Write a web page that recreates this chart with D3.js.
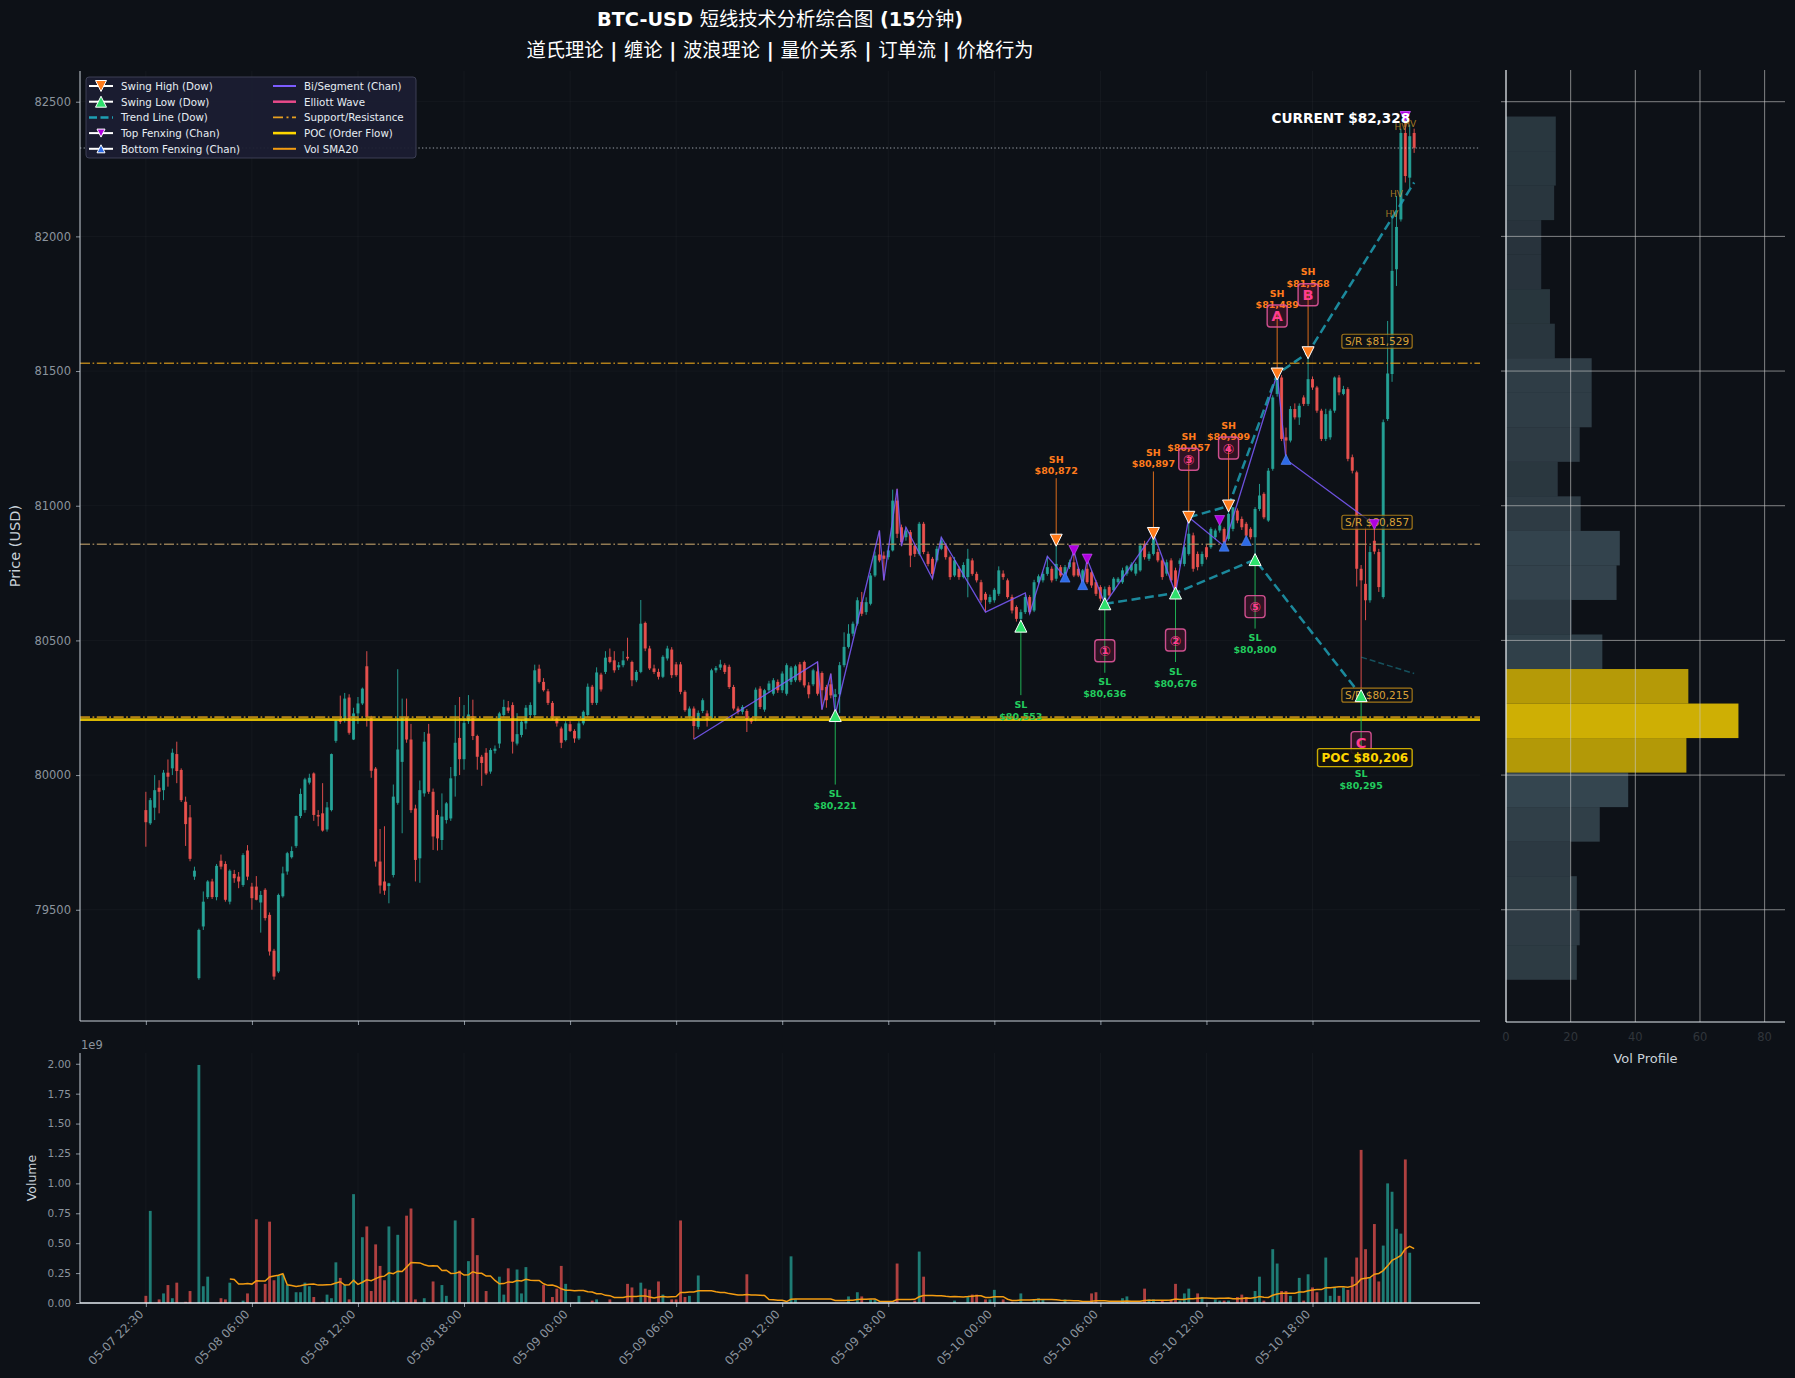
<!DOCTYPE html>
<html><head><meta charset="utf-8">
<script src="https://cdn.jsdelivr.net/npm/d3@7"></script>
<style>
html,body{margin:0;padding:0;background:#0d1117;}
svg{display:block;}
</style></head><body>
<svg id="chart" width="1795" height="1378"></svg>
<script>
// ---------------- DATA ----------------
const opens=[79870,79821,79879,79953,79944,80009,80025,80078,80019,79901,
79843,79623,79246,79438,79547,79605,79547,79682,79670,79530,
79633,79623,79592,79720,79586,79586,79527,79574,79481,79348,
79271,79550,79642,79695,79737,79848,79870,79972,80006,79852,
79858,79798,79870,80127,80206,80204,80288,80132,80229,80266,
80404,80214,80024,79679,79605,79588,79629,79897,80049,80216,
80132,79876,79691,79932,80154,79938,79852,79759,79833,79839,
79996,80138,80059,80200,80219,80145,80068,80083,80013,80090,
80117,80223,80251,80260,80117,80149,80192,80223,80223,80395,
80346,80311,80268,80210,80173,80130,80189,80164,80136,80192,
80223,80328,80268,80373,80383,80439,80426,80400,80408,80439,
80420,80352,80383,80565,80470,80396,80383,80365,80433,80466,
80411,80411,80309,80216,80247,80179,80238,80229,80210,80389,
80399,80408,80402,80327,80247,80235,80238,80210,80210,80321,
80243,80315,80302,80346,80315,80302,80346,80352,80411,80420,
80333,80337,80385,80379,80327,80337,80290,80300,80408,80476,
80525,80562,80643,80605,80636,80741,80819,80815,80809,80834,
81019,80920,80883,80902,80852,80821,80933,80821,80803,80797,
80840,80852,80809,80741,80766,80735,80735,80797,80747,80716,
80673,80642,80649,80673,80748,80723,80661,80624,80580,80605,
80661,80611,80716,80723,80747,80766,80729,80772,80747,80772,
80790,80766,80716,80766,80753,80716,80698,80650,80698,80686,
80716,80716,80748,80760,80748,80760,80858,80803,80821,80828,
80797,80748,80797,80760,80784,80784,80821,80890,80821,80784,
80846,80846,80883,80908,80914,80877,80914,80982,80951,80933,
80914,80883,80988,81044,80945,81137,81415,81476,81254,81242,
81359,81328,81402,81378,81470,81439,81353,81248,81254,81353,
81476,81415,81433,81180,81124,80766,80710,80649,80870,80828,
80661,81322,81489,81878,82063,82384,82218,82384];
const highs=[79938,79915,80000,79981,80019,80058,80098,80124,80025,79920,
79889,79660,79430,79568,79610,79615,79670,79705,79680,79650,
79648,79640,79710,79740,79600,79625,79570,79580,79490,79355,
79560,79660,79715,79735,79850,79950,79990,80005,80010,79870,
79970,79900,80080,80205,80295,80305,80300,80250,80290,80325,
80460,80220,80030,79800,79810,79600,79965,80393,80284,80284,
80190,79890,79980,80160,80190,79950,79870,79932,79900,80030,
80260,80290,80260,80297,80280,80150,80075,80100,80100,80110,
80235,80280,80275,80270,80230,80205,80260,80270,80410,80410,
80360,80320,80275,80215,80180,80200,80200,80170,80200,80240,
80340,80335,80400,80380,80460,80470,80460,80420,80460,80510,
80425,80390,80650,80570,80480,80410,80395,80445,80480,80475,
80420,80420,80315,80255,80255,80240,80285,80240,80395,80405,
80428,80415,80410,80335,80255,80260,80245,80215,80325,80330,
80320,80350,80360,80355,80385,80415,80405,80410,80420,80425,
80345,80395,80420,80385,80335,80377,80320,80420,80530,80560,
80570,80660,80680,80660,80750,80830,80908,80830,80850,81060,
81063,80930,80920,80910,80860,80940,80940,80830,80810,80850,
80883,80860,80815,80810,80775,80790,80840,80805,80755,80725,
80680,80670,80695,80775,80760,80730,80670,80630,80615,80670,
80668,80725,80745,80755,80812,80775,80872,80780,80780,80800,
80834,80772,80765,80802,80760,80725,80705,80700,80705,80735,
80735,80770,80780,80790,80790,80860,80870,80830,80897,80840,
80805,80800,80805,80770,80805,80855,80957,80900,80830,80830,
80855,80920,80915,80945,80920,80999,80995,80990,80960,80940,
80920,80995,81081,81050,81140,81410,81489,81485,81290,81370,
81380,81380,81410,81568,81480,81445,81360,81360,81360,81480,
81485,81445,81440,81190,81130,80780,80920,80850,80930,80840,
81320,81686,82075,82150,82400,82445,82415,82400];
const lows=[79734,79815,79833,79858,79907,79957,80000,79970,79900,79737,
79680,79611,79240,79425,79540,79540,79535,79650,79530,79520,
79600,79580,79585,79610,79500,79535,79415,79460,79330,79240,
79265,79545,79630,79690,79730,79840,79860,79965,79830,79810,
79790,79790,79865,80120,80190,80195,80150,80130,80190,80260,
80180,79990,79660,79560,79555,79524,79620,79890,79784,80120,
79860,79605,79600,79920,79930,79722,79720,79722,79820,79830,
79920,80000,80020,80190,80130,80020,79960,80000,80005,80080,
80100,80215,80230,80080,80110,80140,80170,80215,80215,80340,
80310,80260,80205,80180,80100,80125,80160,80120,80130,80185,
80215,80260,80260,80310,80375,80415,80380,80390,80400,80425,
80330,80345,80378,80460,80390,80375,80355,80360,80425,80360,
80365,80300,80235,80210,80133,80170,80230,80180,80205,80380,
80390,80375,80320,80240,80225,80225,80160,80190,80200,80245,
80235,80305,80295,80305,80305,80295,80335,80345,80345,80325,
80285,80330,80295,80243,80250,80285,80221,80230,80400,80470,
80515,80555,80590,80595,80630,80735,80790,80723,80800,80830,
80880,80850,80870,80772,80810,80815,80820,80775,80729,80790,
80835,80800,80725,80735,80725,80730,80660,80740,80715,80640,
80605,80635,80640,80665,80725,80655,80600,80570,80553,80598,
80598,80605,80710,80715,80740,80715,80720,80735,80735,80765,
80735,80735,80707,80710,80695,80665,80645,80636,80655,80680,
80710,80710,80740,80755,80740,80755,80800,80795,80815,80790,
80725,80740,80715,80676,80775,80775,80815,80755,80760,80775,
80800,80840,80875,80900,80850,80870,80905,80935,80910,80871,
80875,80800,80980,80950,80940,81130,81405,81240,81172,81235,
81320,81300,81370,81370,81430,81345,81240,81240,81245,81345,
81410,81410,81165,81120,80700,80295,80575,80640,80820,80680,
80655,81315,81460,81816,82055,82200,82180,82310];
const closes=[79825,79907,79944,79938,80009,79994,80083,80015,79907,79818,
79689,79645,79425,79530,79605,79547,79663,79660,79537,79645,
79617,79605,79703,79623,79543,79537,79555,79469,79345,79252,
79555,79635,79710,79718,79848,79930,79984,79990,79852,79846,
79794,79880,80078,80201,80198,80284,80157,80229,80266,80321,
80216,80016,79679,79590,79571,79598,79920,80095,80216,80132,
79870,79685,79944,80124,79938,79772,79765,79846,79895,79988,
80120,80059,80194,80225,80145,80068,80045,80006,80093,80098,
80229,80253,80239,80124,80152,80198,80250,80260,80389,80346,
80315,80268,80210,80192,80120,80192,80164,80136,80192,80235,
80328,80268,80381,80318,80436,80420,80389,80408,80426,80433,
80352,80383,80562,80470,80396,80383,80365,80439,80470,80371,
80371,80309,80241,80247,80182,80231,80278,80204,80389,80398,
80411,80383,80327,80247,80235,80253,80204,80198,80317,80253,
80315,80340,80352,80315,80377,80408,80399,80404,80352,80333,
80300,80389,80302,80315,80278,80296,80300,80408,80476,80525,
80562,80649,80599,80642,80741,80815,80797,80803,80834,81019,
80896,80865,80908,80815,80821,80933,80828,80784,80747,80840,
80871,80809,80735,80797,80735,80780,80803,80747,80723,80649,
80651,80661,80688,80760,80735,80661,80611,80580,80605,80661,
80605,80716,80738,80747,80772,80723,80784,80741,80772,80790,
80741,80741,80760,80716,80704,80673,80655,80690,80667,80729,
80729,80760,80775,80782,80784,80852,80809,80821,80896,80797,
80735,80790,80723,80686,80797,80846,80896,80766,80772,80821,
80809,80914,80908,80927,80865,80970,80994,80945,80920,80889,
80883,80988,81038,80957,81130,81402,81476,81248,81242,81359,
81328,81371,81378,81470,81439,81353,81248,81340,81353,81476,
81421,81433,81174,81130,80766,80723,80649,80828,80830,80698,
81310,81491,81872,82035,82384,82224,82372,82329];
// volume in units of 1e9
const volumes=[0.06,0.77,0,0.03,0.08,0.15,0.04,0.17,0,0.01,
0.10,0,1.99,0.14,0.22,0,0,0.04,0.03,0.17,
0,0,0.02,0.08,0,0.70,0,0.16,0.68,0.19,
0.23,0.24,0.15,0,0.09,0.09,0.17,0.14,0.05,0,
0.01,0.07,0.04,0.34,0.21,0.15,0.03,0.91,0,0.55,
0.64,0.10,0.49,0.31,0.19,0.64,0.02,0.57,0,0.73,
0.79,0.03,0,0.04,0,0.18,0,0.15,0.06,0,
0.69,0.27,0,0.35,0.71,0.40,0,0.10,0,0,
0.22,0.07,0.29,0,0.28,0.08,0.30,0,0,0,
0.15,0,0.05,0.12,0.31,0.16,0,0,0.06,0,
0,0.02,0.03,0,0,0.03,0,0,0,0.16,
0.13,0,0.17,0.12,0.11,0,0.18,0.07,0,0.03,
0.03,0.69,0.05,0.06,0,0.23,0,0,0,0,
0,0,0,0,0,0,0.24,0,0,0,
0,0,0,0,0,0,0.39,0.03,0,0,
0,0,0,0,0,0,0,0,0,0.055,
0,0.09,0.055,0,0.03,0.03,0,0,0,0,
0.33,0,0,0,0.02,0.43,0.22,0,0,0,
0,0,0,0.02,0,0,0.05,0.07,0.07,0,
0.03,0.03,0.11,0,0.03,0,0.01,0,0.08,0,
0,0.03,0.04,0.03,0,0,0,0,0.03,0,
0,0,0,0,0.08,0.09,0,0,0,0,
0,0.04,0.055,0,0,0,0.12,0.03,0.03,0,
0.02,0,0.03,0.16,0.02,0.08,0.12,0,0.08,0.05,
0,0,0.03,0.02,0.02,0.02,0,0.05,0.07,0.05,
0,0.10,0.22,0.02,0,0.45,0.33,0.10,0.10,0.06,
0,0.21,0.02,0.24,0.13,0.09,0,0.38,0.06,0.13,
0.06,0.13,0.11,0.22,0.38,1.28,0.45,0.21,0.66,0.18,
0.48,1.0,0.93,0.62,0.58,1.2,0.42,0];

const tickIdx=[0,24,48,72,96,120,144,168,192,216,240,264];
const tickLabels=["05-07 22:30","05-08 06:00","05-08 12:00","05-08 18:00","05-09 00:00","05-09 06:00",
"05-09 12:00","05-09 18:00","05-10 00:00","05-10 06:00","05-10 12:00","05-10 18:00"];
const priceTicks=[79500,80000,80500,81000,81500,82000,82500];
const volTicks=[0,0.25,0.5,0.75,1.0,1.25,1.5,1.75,2.0];
const profTicks=[0,20,40,60,80];

// Dow swing points
const swingHighIdx=[206,228,236,245,256,263];
const swingHighPx=[80872,80897,80957,80999,81489,81568];
const swingLowIdx=[156,198,217,233,251,275];
const swingLowPx=[80221,80553,80636,80676,80800,80295];
// Dow trend lines
const trendHiIdx=[236,245,256,263,287];
const trendHiPx=[80957,80999,81489,81568,82200];
const trendLoIdx=[217,233,251,275];
const trendLoPx=[80636,80676,80800,80295];
const projIdx=[275,287];
const projPx=[80438,80377];
// Chan fenxing + bi
const topFxIdx=[210,213,243,278,285];
const topFxPx=[80834,80802,80945,80930,82445];
const botFxIdx=[208,212,244,249,258];
const botFxPx=[80735,80707,80850,80871,81172];
const biIdx=[124,152,153,155,156,166,167,170,171,172,178,180,190,199,200,204,208,210,212,213,217,228,233,236,244,256,258,278];
const biPx=[80133,80420,80243,80377,80225,80908,80723,81063,80850,80920,80729,80883,80605,80676,80600,80812,80735,80834,80707,80802,80636,80897,80676,80957,80850,81489,81172,80930];
// Elliott wave labels
const waveLabels=["①","②","③","④","⑤","A","B","C"];
const waveIdx=[217,233,236,245,251,256,263,275];
const wavePx=[80636,80676,80957,80999,80800,81489,81568,80295];
const waveKind=["L","L","H","H","L","H","H","L"];
// Support / resistance, POC, current
const srLevels=[81529,80857,80215];
const pocPrice=80206;
const currentPrice=82328;
// Volume profile (25 bins, low -> high)
const volProfile=[21.9,22.8,21.9,19.9,29.0,37.8,55.8,71.9,56.4,29.8,20.3,34.2,35.2,23.1,16.0,22.8,26.5,26.5,15.1,13.6,10.9,10.9,14.9,15.4,15.4];
// High-volume tags
const hvIdx=[282,283,284,286];
const hvPx=[82082,82158,82407,82418];

// ---------------- DRAW ----------------
const W=1795,H=1378;
const FONT="'DejaVu Sans','Noto Sans CJK SC',sans-serif";
const CJK="'Noto Sans CJK SC','DejaVu Sans',sans-serif";
const C={bg:'#0d1117',up:'#26a69a',dn:'#ef5350',tick:'#8b949e',spine:'#c9d1d9',
  sh:'#ff7b1c',sl:'#2ee06c',slText:'#22cc5e',trend:'#1e9fb4',bi:'#7c5cff',topFx:'#b000e0',botFx:'#2e6be6',
  wave:'#ff3d8e',sr:'#d89a1c',poc:'#ffd600',sma:'#f39c12'};
const svg=d3.select('#chart');
svg.append('rect').attr('width',W).attr('height',H).attr('fill',C.bg);
const n=closes.length;
const idx=d3.range(n);

const M={l:80,r:1480,t:71,b:1021};
const V={t:1053,b:1303};
const P={l:1506,r:1785,t:70,b:1022};
const x=d3.scaleLinear().domain([-14.9,301.9]).range([M.l,M.r]);
const y=d3.scaleLinear().domain([79087,82614]).range([M.b,M.t]);
const yv=d3.scaleLinear().domain([0,2.09]).range([V.b,V.t]);
const xp=d3.scaleLinear().domain([0,86.3]).range([P.l,P.r]);

svg.append('defs').append('clipPath').attr('id','clipMain').append('rect')
  .attr('x',M.l).attr('y',M.t).attr('width',M.r-M.l).attr('height',M.b-M.t);

// Title
const TFS=19.3;
const t1=svg.append('text').attr('x',780).attr('y',26).attr('text-anchor','middle').attr('fill','#ffffff').attr('font-size',TFS);
[['BTC-USD ',1],['短线技术分析综合图',0],[' (15',1],['分钟',0],[')',1]].forEach(p=>{
  t1.append('tspan').text(p[0]).attr('font-family',p[1]?FONT:CJK).attr('font-weight',p[1]?'bold':'normal');
});
const t2=svg.append('text').attr('x',780).attr('y',57).attr('text-anchor','middle').attr('fill','#ffffff').attr('font-size',TFS);
['道氏理论','缠论','波浪理论','量价关系','订单流','价格行为'].forEach((s,k)=>{
  if(k>0) t2.append('tspan').attr('font-family',FONT).attr('font-weight','bold').text(' | ');
  t2.append('tspan').attr('font-family',CJK).text(s);
});

// faint grid main + volume
const g0=svg.append('g');
tickIdx.forEach(t=>{
  g0.append('line').attr('x1',x(t)).attr('x2',x(t)).attr('y1',M.t).attr('y2',M.b).attr('stroke','#ffffff').attr('stroke-opacity',0.035);
  g0.append('line').attr('x1',x(t)).attr('x2',x(t)).attr('y1',V.t).attr('y2',V.b).attr('stroke','#ffffff').attr('stroke-opacity',0.035);
});
priceTicks.forEach(p=>g0.append('line').attr('x1',M.l).attr('x2',M.r).attr('y1',y(p)).attr('y2',y(p)).attr('stroke','#ffffff').attr('stroke-opacity',0.03));

// Candles
const gc=svg.append('g').attr('clip-path','url(#clipMain)');
const step=x(1)-x(0), bw=step*0.68;
idx.forEach(i=>{
  const up=closes[i]>=opens[i], col=up?C.up:C.dn;
  gc.append('line').attr('x1',x(i)).attr('x2',x(i)).attr('y1',y(highs[i])).attr('y2',y(lows[i]))
    .attr('stroke',col).attr('stroke-width',1).attr('opacity',0.9);
  const top=y(Math.max(opens[i],closes[i])), bot=y(Math.min(opens[i],closes[i]));
  gc.append('rect').attr('x',x(i)-bw/2).attr('y',top).attr('width',bw).attr('height',Math.max(1,bot-top))
    .attr('fill',col).attr('opacity',0.9);
});

// Horizontal levels
const gl=svg.append('g').attr('clip-path','url(#clipMain)');
const srCols=['#d89a1c','#b39563','#d89a1c'];
srLevels.forEach((p,k)=>gl.append('line').attr('x1',M.l).attr('x2',M.r).attr('y1',y(p)).attr('y2',y(p))
  .attr('stroke',srCols[k]).attr('stroke-width',1.6).attr('stroke-opacity',0.8).attr('stroke-dasharray','10,2.6,1.6,2.6'));
gl.append('line').attr('x1',M.l).attr('x2',M.r).attr('y1',y(currentPrice)).attr('y2',y(currentPrice))
  .attr('stroke','#c9d1d9').attr('stroke-opacity',0.75).attr('stroke-width',1.1).attr('stroke-dasharray','1.3,2.3');

// Bi lines
const line=d3.line().x(d=>x(d[0])).y(d=>y(d[1]));
gl.append('path').attr('d',line(biIdx.map((t,k)=>[t,biPx[k]]))).attr('fill','none')
  .attr('stroke',C.bi).attr('stroke-width',1.3).attr('stroke-opacity',0.85);
// Trend lines
[[trendHiIdx,trendHiPx],[trendLoIdx,trendLoPx]].forEach(([a,b])=>{
  gl.append('path').attr('d',line(a.map((t,k)=>[t,b[k]]))).attr('fill','none')
    .attr('stroke',C.trend).attr('stroke-width',2.5).attr('stroke-opacity',0.85).attr('stroke-dasharray','9,4.5');
});
gl.append('path').attr('d',line(projIdx.map((t,k)=>[t,projPx[k]]))).attr('fill','none')
  .attr('stroke',C.trend).attr('stroke-width',1.5).attr('stroke-opacity',0.45).attr('stroke-dasharray','6,3');

// S/R labels
const xEnd=x(n-1)-2;
function boxLabel(g,txt,xr,yc,opt){
  const t=g.append('text').attr('x',xr-opt.pad).attr('y',yc).attr('text-anchor','end').attr('dominant-baseline','central')
    .attr('font-family',FONT).attr('font-size',opt.fs).attr('font-weight',opt.fw||'normal').attr('fill',opt.col).text(txt);
  const bb=t.node().getBBox();
  g.insert('rect','text:last-of-type').attr('x',bb.x-opt.pad).attr('y',yc-opt.h/2).attr('width',bb.width+opt.pad*2).attr('height',opt.h)
    .attr('rx',2).attr('fill',opt.bg).attr('fill-opacity',opt.bgo).attr('stroke',opt.stroke).attr('stroke-width',opt.sw).attr('stroke-opacity',opt.so);
  return t;
}
srLevels.forEach((p,k)=>{
  const g=svg.append('g');
  boxLabel(g,'S/R $'+d3.format(',')(p),xEnd,y(p)-22,{pad:3,fs:10.5,col:'#d9a036',h:14,bg:'#0d1117',bgo:0.75,stroke:'#c8901a',sw:1.2,so:0.8});
});

// Fenxing markers
function tri(dir,s){return dir==='down'?`M${-s},${-s}L${s},${-s}L0,${s}Z`:`M${-s},${s}L${s},${s}L0,${-s}Z`;}
topFxIdx.forEach((t,k)=>svg.append('path').attr('d',tri('down',5)).attr('transform',`translate(${x(t)},${y(topFxPx[k])})`)
  .attr('fill',C.topFx).attr('stroke','#d060ff').attr('stroke-width',0.6));
botFxIdx.forEach((t,k)=>svg.append('path').attr('d',tri('up',5)).attr('transform',`translate(${x(t)},${y(botFxPx[k])})`)
  .attr('fill',C.botFx).attr('stroke','#5a8cff').attr('stroke-width',0.6));

// Swing annotations
const ga=svg.append('g').attr('font-family',FONT).attr('font-weight','bold').attr('font-size',9.5).attr('text-anchor','middle');
swingHighIdx.forEach((t,k)=>{
  const cx=x(t), cy=y(swingHighPx[k]);
  ga.append('line').attr('x1',cx).attr('x2',cx).attr('y1',cy-62).attr('y2',cy-6).attr('stroke',C.sh).attr('stroke-width',1).attr('stroke-opacity',0.85);
  ga.append('text').attr('x',cx).attr('y',cy-77.5).attr('fill',C.sh).text('SH');
  ga.append('text').attr('x',cx).attr('y',cy-66).attr('fill',C.sh).text('$'+d3.format(',')(swingHighPx[k]));
});
swingLowIdx.forEach((t,k)=>{
  const cx=x(t), cy=y(swingLowPx[k]);
  ga.append('line').attr('x1',cx).attr('x2',cx).attr('y1',cy+6).attr('y2',cy+69).attr('stroke',C.slText).attr('stroke-width',1).attr('stroke-opacity',0.85);
  ga.append('text').attr('x',cx).attr('y',cy+81.5).attr('fill',C.slText).text('SL');
  ga.append('text').attr('x',cx).attr('y',cy+93.5).attr('fill',C.slText).text('$'+d3.format(',')(swingLowPx[k]));
});

// POC line
gl.append('line').attr('x1',M.l).attr('x2',M.r).attr('y1',y(pocPrice)).attr('y2',y(pocPrice))
  .attr('stroke',C.poc).attr('stroke-width',2.6).attr('stroke-opacity',0.85);
svg.append('line').attr('x1',M.l).attr('x2',M.r).attr('y1',y(srLevels[2])).attr('y2',y(srLevels[2]))
  .attr('stroke','#b8860b').attr('stroke-width',1.2).attr('stroke-opacity',0.6).attr('stroke-dasharray','10,2.6,1.6,2.6');

// Swing markers
swingHighIdx.forEach((t,k)=>svg.append('path').attr('d',tri('down',6)).attr('transform',`translate(${x(t)},${y(swingHighPx[k])})`)
  .attr('fill',C.sh).attr('stroke','#ffffff').attr('stroke-width',1));
swingLowIdx.forEach((t,k)=>svg.append('path').attr('d',tri('up',6)).attr('transform',`translate(${x(t)},${y(swingLowPx[k])})`)
  .attr('fill',C.sl).attr('stroke','#ffffff').attr('stroke-width',1));

// Elliott labels
waveLabels.forEach((lab,k)=>{
  const cx=x(waveIdx[k]), cy=y(wavePx[k])+(waveKind[k]==='H'?-58:47);
  const letter=/[A-C]/.test(lab);
  svg.append('rect').attr('x',cx-10).attr('y',cy-11).attr('width',20).attr('height',22).attr('rx',3)
    .attr('fill','#e91e63').attr('fill-opacity',0.16).attr('stroke','#e0559a').attr('stroke-width',1.4).attr('stroke-opacity',0.9);
  svg.append('text').attr('x',cx).attr('y',cy+(letter?0:0.5)).attr('text-anchor','middle').attr('dominant-baseline','central')
    .attr('font-family',FONT).attr('font-weight','bold').attr('font-size',letter?14.5:14).attr('fill',C.wave).text(lab);
});

// POC label
boxLabel(svg.append('g'),'POC $'+d3.format(',')(pocPrice),xEnd,y(pocPrice)+38,{pad:4,fs:12,fw:'bold',col:'#ffd600',h:18,bg:'#15140c',bgo:0.9,stroke:'#e0bd00',sw:1.4,so:0.9});

// HV tags
hvIdx.forEach((t,k)=>svg.append('text').attr('x',x(t)).attr('y',y(hvPx[k])).attr('text-anchor','middle').attr('dominant-baseline','central')
  .attr('font-family',FONT).attr('font-size',9).attr('fill','#c8962a').attr('fill-opacity',0.8).text('HV'));
// re-draw last top fenxing on top of tags
svg.append('path').attr('d',tri('down',5)).attr('transform',`translate(${x(topFxIdx[4])},${y(topFxPx[4])})`).attr('fill',C.topFx).attr('stroke','#d060ff').attr('stroke-width',0.6);

// Current label
svg.append('text').attr('x',x(n-1)-4).attr('y',y(currentPrice)-30).attr('text-anchor','end').attr('dominant-baseline','central')
  .attr('font-family',FONT).attr('font-weight','bold').attr('font-size',13.6).attr('fill','#ffffff').text('CURRENT $'+d3.format(',')(currentPrice));

// Main axes
function styleAxis(g,fs,col){
  g.selectAll('.domain').remove();
  g.selectAll('.tick line').attr('stroke',C.tick);
  g.selectAll('.tick text').attr('fill',col||C.tick).attr('font-family',FONT).attr('font-size',fs);
}
const ayMain=svg.append('g').attr('transform',`translate(${M.l},0)`).call(d3.axisLeft(y).tickValues(priceTicks).tickFormat(d3.format('d')).tickSize(4).tickPadding(5));
styleAxis(ayMain,11.5);
const axMain=svg.append('g').attr('transform',`translate(0,${M.b})`).call(d3.axisBottom(x).tickValues(tickIdx).tickFormat('').tickSize(4));
styleAxis(axMain,10);
svg.append('line').attr('x1',M.l).attr('x2',M.l).attr('y1',M.t).attr('y2',M.b).attr('stroke',C.spine).attr('stroke-width',1);
svg.append('line').attr('x1',M.l).attr('x2',M.r).attr('y1',M.b).attr('y2',M.b).attr('stroke',C.spine).attr('stroke-width',1);
svg.append('text').attr('transform',`translate(20,${(M.t+M.b)/2}) rotate(-90)`).attr('text-anchor','middle')
  .attr('font-family',FONT).attr('font-size',14.5).attr('fill','#c9d1d9').text('Price (USD)');

// Volume panel
const gv=svg.append('g');
idx.forEach(i=>{
  if(volumes[i]<=0) return;
  const up=closes[i]>=opens[i];
  gv.append('rect').attr('x',x(i)-bw*0.47).attr('y',yv(volumes[i])).attr('width',bw*0.94).attr('height',yv(0)-yv(volumes[i]))
    .attr('fill',up?C.up:C.dn).attr('opacity',0.72);
});
const sma=idx.filter(i=>i>=19).map(i=>[i,d3.mean(volumes.slice(i-19,i+1))]);
gv.append('path').attr('d',d3.line().x(d=>x(d[0])).y(d=>yv(d[1]))(sma)).attr('fill','none').attr('stroke',C.sma).attr('stroke-width',1.5);
const ayV=svg.append('g').attr('transform',`translate(${M.l},0)`).call(d3.axisLeft(yv).tickValues(volTicks).tickFormat(d3.format('.2f')).tickSize(4).tickPadding(5));
styleAxis(ayV,10.5);
const axV=svg.append('g').attr('transform',`translate(0,${V.b})`).call(d3.axisBottom(x).tickValues(tickIdx).tickFormat((d,k)=>tickLabels[k]).tickSize(4));
styleAxis(axV,11.8);
axV.selectAll('.tick text').attr('x',0).attr('y',0).attr('text-anchor','end').attr('transform','translate(-5,9) rotate(-45)').attr('dy','0.35em');
svg.append('line').attr('x1',M.l).attr('x2',M.l).attr('y1',V.t).attr('y2',V.b).attr('stroke',C.spine);
svg.append('line').attr('x1',M.l).attr('x2',M.r).attr('y1',V.b).attr('y2',V.b).attr('stroke','#e6edf3').attr('stroke-width',1.3);
svg.append('text').attr('x',M.l+1).attr('y',1049).attr('font-family',FONT).attr('font-size',11.5).attr('fill',C.tick).text('1e9');
svg.append('text').attr('transform',`translate(36,${(V.t+V.b)/2}) rotate(-90)`).attr('text-anchor','middle')
  .attr('font-family',FONT).attr('font-size',12.5).attr('fill','#c9d1d9').text('Volume');

// Volume profile
const lo=d3.min(lows), hi=d3.max(highs), nb=volProfile.length, bs=(hi-lo)/nb, vmax=d3.max(volProfile);
const gp=svg.append('g');
volProfile.forEach((v,k)=>{
  const gold=v>=0.7*vmax;
  gp.append('rect').attr('x',P.l).attr('y',y(lo+(k+1)*bs)).attr('width',xp(v)-P.l).attr('height',y(lo+k*bs)-y(lo+(k+1)*bs))
    .attr('fill',gold?'#ffd700':'#546e7a').attr('fill-opacity',0.3+0.5*v/vmax);
});
profTicks.forEach(t=>gp.append('line').attr('x1',xp(t)).attr('x2',xp(t)).attr('y1',P.t).attr('y2',P.b).attr('stroke','#c8c8c8').attr('stroke-opacity',0.7).attr('stroke-width',0.9));
priceTicks.forEach(p=>gp.append('line').attr('x1',P.l-5).attr('x2',P.r).attr('y1',y(p)).attr('y2',y(p)).attr('stroke','#c8c8c8').attr('stroke-opacity',0.7).attr('stroke-width',0.9));
svg.append('line').attr('x1',P.l).attr('x2',P.l).attr('y1',P.t).attr('y2',P.b).attr('stroke','#e6edf3');
svg.append('line').attr('x1',P.l).attr('x2',P.r).attr('y1',P.b).attr('y2',P.b).attr('stroke','#e6edf3');
profTicks.forEach(t=>svg.append('text').attr('x',xp(t)).attr('y',P.b+19).attr('text-anchor','middle').attr('font-family',FONT)
  .attr('font-size',11.5).attr('fill','#30353b').text(t));
svg.append('text').attr('x',(P.l+P.r)/2).attr('y',1063).attr('text-anchor','middle').attr('font-family',FONT).attr('font-size',13)
  .attr('fill','#c9d1d9').text('Vol Profile');

// Legend
const lg=svg.append('g').attr('font-family',FONT).attr('font-size',10.3).attr('fill','#e6edf3');
lg.append('rect').attr('x',86).attr('y',77).attr('width',330).attr('height',81).attr('rx',3)
  .attr('fill','#1b1e31').attr('fill-opacity',0.95).attr('stroke','#3c3f55').attr('stroke-width',1);
const rowY=k=>86+k*15.7;
const c1=[89,113], c2=[273,296];
function hline(xx,yy,col,w,dash){lg.append('line').attr('x1',xx[0]).attr('x2',xx[1]).attr('y1',yy).attr('y2',yy).attr('stroke',col).attr('stroke-width',w).attr('stroke-dasharray',dash||null);}
function lmark(xx,yy,dir,s,fill){lg.append('path').attr('d',tri(dir,s)).attr('transform',`translate(${(xx[0]+xx[1])/2},${yy})`).attr('fill',fill).attr('stroke','#ffffff').attr('stroke-width',1);}
hline(c1,rowY(0),'#ffffff',2); lmark(c1,rowY(0),'down',5.5,C.sh);
hline(c1,rowY(1),'#ffffff',2); lmark(c1,rowY(1),'up',5.5,C.sl);
hline(c1,rowY(2),C.trend,2.5,'8,3.5');
hline(c1,rowY(3),'#ffffff',2); lmark(c1,rowY(3),'down',4,C.topFx);
hline(c1,rowY(4),'#ffffff',2); lmark(c1,rowY(4),'up',4,C.botFx);
hline(c2,rowY(0),C.bi,2);
hline(c2,rowY(1),'#e84a8a',2.5);
hline(c2,rowY(2),'#e8a020',1.6,'10,3.5,2,3.5');
hline(c2,rowY(3),C.poc,2.6);
hline(c2,rowY(4),C.sma,2);
['Swing High (Dow)','Swing Low (Dow)','Trend Line (Dow)','Top Fenxing (Chan)','Bottom Fenxing (Chan)'].forEach((s,k)=>
  lg.append('text').attr('x',121).attr('y',rowY(k)).attr('dominant-baseline','central').text(s));
['Bi/Segment (Chan)','Elliott Wave','Support/Resistance','POC (Order Flow)','Vol SMA20'].forEach((s,k)=>
  lg.append('text').attr('x',304).attr('y',rowY(k)).attr('dominant-baseline','central').text(s));
</script>
</body></html>
